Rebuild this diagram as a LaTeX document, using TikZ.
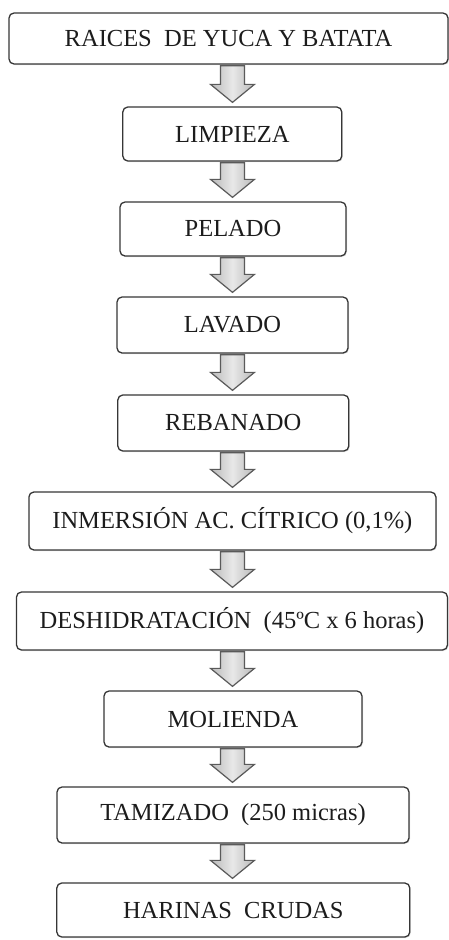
\documentclass[tikz,border=0pt]{standalone}
\usepackage{fontspec}
\setmainfont{Liberation Serif}
\usetikzlibrary{calc,shadows}
\definecolor{boxline}{HTML}{363636}
\definecolor{txt}{HTML}{1C1C1C}
\definecolor{arrowline}{HTML}{5A5A5A}
\begin{document}
\begin{tikzpicture}[x=1pt,y=-1pt,
  box/.style={draw=boxline, line width=1.3pt, rounded corners=5pt, fill=white,
    font=\fontsize{24.5}{28}\selectfont, text=txt, inner sep=0pt,
    drop shadow={opacity=0.25,shadow xshift=1pt,shadow yshift=-1pt}},
  flowarrow/.style={draw=arrowline, line width=1.2pt, line join=miter,
    left color=gray!55, right color=gray!55, middle color=gray!18}
]
\useasboundingbox (0,0) rectangle (449,940);
\newcommand\flowarr[2]{%
  \draw[flowarrow] let \p1=(#1.south), \p2=(#2.north) in
    (220.5pt,\y1-1pt) -- (244.5pt,\y1-1pt) -- (244.5pt,\y2+22pt) --
    (254.5pt,\y2+22pt) -- (232.5pt,\y2+4pt) -- (210.5pt,\y2+22pt) --
    (220.5pt,\y2+22pt) -- cycle;}
\node[box, minimum width=439pt, minimum height=51pt] (b1) at (228.5,38.5) {RAICES\ \ DE YUCA Y BATATA};
\node[box, minimum width=219pt, minimum height=54pt] (b2) at (232.3,134) {LIMPIEZA};
\node[box, minimum width=226pt, minimum height=54pt] (b3) at (233,229) {PELADO};
\node[box, minimum width=231pt, minimum height=56pt] (b4) at (232.5,325) {LAVADO};
\node[box, minimum width=231pt, minimum height=56pt] (b5) at (233.3,423) {REBANADO};
\node[box, minimum width=407pt, minimum height=58pt] (b6) at (232.4,521) {INMERSIÓN AC. CÍTRICO (0,1\%)};
\node[box, minimum width=431pt, minimum height=58pt] (b7) at (232,621) {DESHIDRATACIÓN\ \ (45ºC x 6 horas)};
\node[box, minimum width=258pt, minimum height=56pt] (b8) at (233,719) {MOLIENDA};
\node[box, minimum width=352pt, minimum height=56pt] (b9) at (233,815) {TAMIZADO\ \ (250 micras)};
\node[box, minimum width=353pt, minimum height=54pt] (b10) at (233.3,910) {HARINAS\ \ CRUDAS};
\flowarr{b1}{b2}
\flowarr{b2}{b3}
\flowarr{b3}{b4}
\flowarr{b4}{b5}
\flowarr{b5}{b6}
\flowarr{b6}{b7}
\flowarr{b7}{b8}
\flowarr{b8}{b9}
\flowarr{b9}{b10}
\end{tikzpicture}
\end{document}
